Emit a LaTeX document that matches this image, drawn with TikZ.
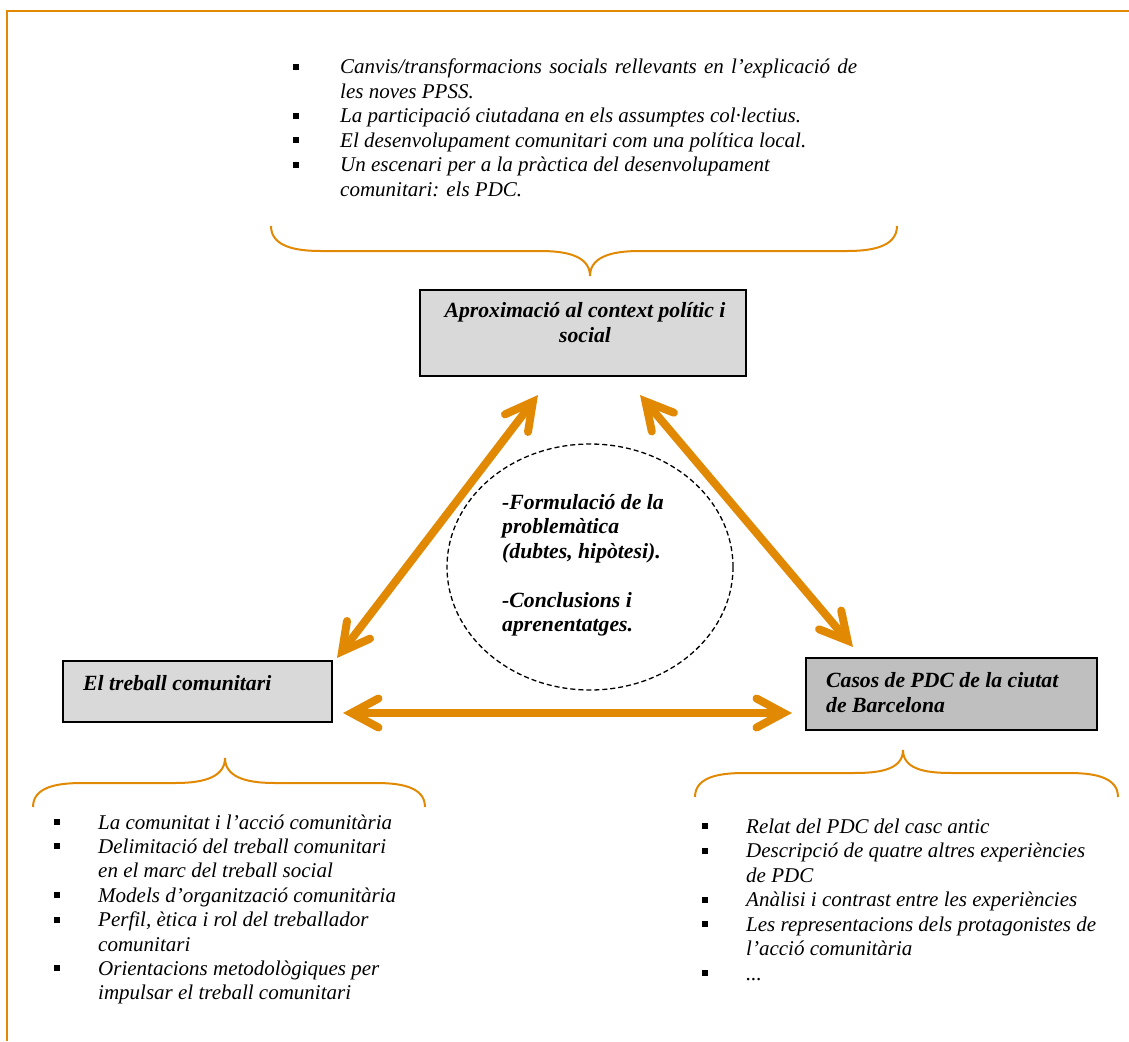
\documentclass[tikz,border=0pt]{standalone}
\usepackage{fontspec}
\setmainfont{Liberation Serif}
\usetikzlibrary{arrows.meta,shapes.geometric}
\definecolor{orng}{RGB}{226,137,4}
\definecolor{boxlight}{RGB}{217,217,217}
\definecolor{boxdark}{RGB}{191,191,191}
\tikzset{
  listtext/.style={anchor=base west, inner sep=0pt, font=\fontsize{21}{24}\selectfont\itshape},
  bul/.style={rectangle, fill=black, minimum size=6pt, inner sep=0pt},
  boxlabel/.style={inner sep=0pt, font=\fontsize{21.7}{25}\selectfont\bfseries\itshape},
  topic/.style={rectangle, draw=black, line width=2pt, inner sep=0pt},
  brace/.style={draw=orng, line width=2pt},
  barb/.tip={Straight Barb[length=27pt,width=29pt,line cap=round,line join=miter]},
  dblarrow/.style={draw=orng, line width=8pt, line cap=round, barb-barb},
}
\begin{document}
\begin{tikzpicture}[x=1pt,y=-1pt]
\useasboundingbox (0,0) rectangle (1129,1041);
% frame
\coordinate (fTL) at (7,11);
\coordinate (fTR) at (1129,11);
\coordinate (fBL) at (7,1041);
\draw[orng, line width=2.5pt] (fTR) -- (fTL) -- (fBL);

% top list
\node[bul] (tb1) at (296,67) {};
\node[listtext] (tl1) at (340,74) {\makebox[517pt][s]{Canvis/transformacions socials rellevants en l’explicació de}};
\node[listtext] (tl2) at (340,98.4) {les noves PPSS.};
\node[bul] (tb2) at (296,115.8) {};
\node[listtext] (tl3) at (340,122.8) {La participació ciutadana en els assumptes col·lectius.};
\node[bul] (tb3) at (296,140.2) {};
\node[listtext] (tl4) at (340,147.2) {El desenvolupament comunitari com una política local.};
\node[bul] (tb4) at (296,164.6) {};
\node[listtext] (tl5) at (340,171.6) {Un escenari per a la pràctica del desenvolupament};
\node[listtext] (tl6) at (340,196) {comunitari: els PDC.};

% top brace
\draw[brace] (271,226) to[out=-90,in=180] (321,251) -- (540,251)
  to[out=0,in=90] (590,276) to[out=90,in=180] (640,251) -- (847,251)
  to[out=0,in=-90] (897,226);

% boxes
\node[topic, fill=boxlight, minimum width=326pt, minimum height=86pt] (ctx) at (583,333) {};
\node[boxlabel, anchor=base] (ctxl1) at (585,317) {Aproximació al context polític i};
\node[boxlabel, anchor=base] (ctxl2) at (585,342) {social};

\node[topic, fill=boxlight, minimum width=269pt, minimum height=61pt] (tc) at (197.5,691.5) {};
\node[boxlabel, anchor=base west] (tcl) at (83,690) {El treball comunitari};

\node[topic, fill=boxdark, minimum width=291pt, minimum height=72pt] (pdc) at (951.5,694) {};
\node[boxlabel, anchor=base west] (pdcl1) at (826,687) {Casos de PDC de la ciutat};
\node[boxlabel, anchor=base west] (pdcl2) at (826,712) {de Barcelona};

% central ellipse
\node[draw=black, line width=1.3pt, dash pattern=on 5pt off 3pt,
  ellipse, minimum width=286pt, minimum height=246pt, inner sep=0pt] (core) at (590,567) {};
\node[boxlabel, anchor=base west] (c1) at (502,509) {-Formulació de la};
\node[boxlabel, anchor=base west] (c2) at (502,533.5) {problemàtica};
\node[boxlabel, anchor=base west] (c3) at (502,558) {(dubtes, hipòtesi).};
\node[boxlabel, anchor=base west] (c4) at (502,607) {-Conclusions i};
\node[boxlabel, anchor=base west] (c5) at (502,631.5) {aprenentatges.};

% arrows
\coordinate (a1s) at (337,658);
\coordinate (a1e) at (538,395);
\coordinate (a2s) at (640,395);
\coordinate (a2e) at (853,647);
\coordinate (a3s) at (343,713);
\coordinate (a3e) at (792,713);
\draw[dblarrow] (a1s) -- (a1e);
\draw[dblarrow] (a2s) -- (a2e);
\draw[dblarrow] (a3s) -- (a3e);

% left brace
\draw[brace] (33,807) to[out=90,in=180] (83,783) -- (175,783)
  to[out=0,in=-90] (225,758) to[out=-90,in=180] (275,783) -- (375,783)
  to[out=0,in=90] (425,807);

% right brace
\draw[brace] (695,797) to[out=90,in=180] (745,773) -- (853,773)
  to[out=0,in=-90] (903,750) to[out=-90,in=180] (953,773) -- (1068,773)
  to[out=0,in=90] (1118,797);

% left list
\node[bul] (lb1) at (57,822) {};
\node[listtext] (ll1) at (98,829) {La comunitat i l’acció comunitària};
\node[bul] (lb2) at (57,846.4) {};
\node[listtext] (ll2) at (98,853.4) {Delimitació del treball comunitari};
\node[listtext] (ll3) at (98,877.8) {en el marc del treball social};
\node[bul] (lb3) at (57,895.2) {};
\node[listtext] (ll4) at (98,902.2) {Models d’organització comunitària};
\node[bul] (lb4) at (57,919.6) {};
\node[listtext] (ll5) at (98,926.6) {Perfil, ètica i rol del treballador};
\node[listtext] (ll6) at (98,951) {comunitari};
\node[bul] (lb5) at (57,968.4) {};
\node[listtext] (ll7) at (98,975.4) {Orientacions metodològiques per};
\node[listtext] (ll8) at (98,999.8) {impulsar el treball comunitari};

% right list
\node[bul] (rb1) at (705,826) {};
\node[listtext] (rl1) at (746,833) {Relat del PDC del casc antic};
\node[bul] (rb2) at (705,850.5) {};
\node[listtext] (rl2) at (746,857.5) {Descripció de quatre altres experiències};
\node[listtext] (rl3) at (746,882) {de PDC};
\node[bul] (rb3) at (705,899.5) {};
\node[listtext] (rl4) at (746,906.5) {Anàlisi i contrast entre les experiències};
\node[bul] (rb4) at (705,924) {};
\node[listtext] (rl5) at (746,931) {Les representacions dels protagonistes de};
\node[listtext] (rl6) at (746,955.5) {l’acció comunitària};
\node[bul] (rb5) at (705,973) {};
\node[listtext] (rl7) at (746,980) {...};
\end{tikzpicture}
\end{document}
